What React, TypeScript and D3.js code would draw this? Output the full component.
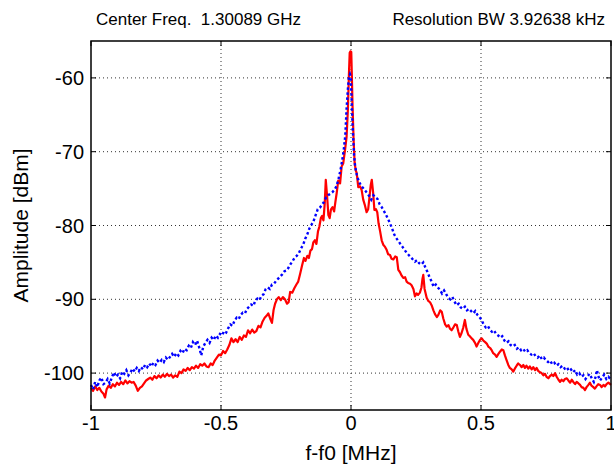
import React from "react";
import * as d3 from "d3";

// ---------------- data
const redFreq = [
  -1.0, -0.992, -0.984, -0.976, -0.968, -0.96, -0.952, -0.946, -0.94, -0.932, -0.924, -0.916, -0.908, -0.9, -0.892,
  -0.884, -0.876, -0.868, -0.86, -0.852, -0.844, -0.836, -0.828, -0.82, -0.812, -0.804, -0.796, -0.788, -0.78, -0.772,
  -0.764, -0.756, -0.748, -0.74, -0.732, -0.724, -0.716, -0.708, -0.7, -0.692, -0.684, -0.676, -0.668, -0.66, -0.652,
  -0.644, -0.636, -0.628, -0.62, -0.612, -0.604, -0.596, -0.588, -0.58, -0.572, -0.564, -0.556, -0.548, -0.54, -0.532,
  -0.524, -0.516, -0.508, -0.5, -0.492, -0.484, -0.476, -0.468, -0.46, -0.452, -0.444, -0.436, -0.428, -0.42, -0.412,
  -0.404, -0.396, -0.388, -0.38, -0.372, -0.364, -0.356, -0.348, -0.34, -0.332, -0.324, -0.318, -0.311, -0.304, -0.298,
  -0.292, -0.285, -0.278, -0.27, -0.262, -0.254, -0.246, -0.24, -0.234, -0.226, -0.218, -0.21, -0.203, -0.196, -0.188,
  -0.181, -0.175, -0.168, -0.162, -0.156, -0.15, -0.145, -0.139, -0.133, -0.127, -0.122, -0.116, -0.111, -0.106, -0.101,
  -0.097, -0.092, -0.087, -0.082, -0.077, -0.071, -0.065, -0.06, -0.055, -0.049, -0.042, -0.036, -0.03, -0.023, -0.017,
  -0.012, -0.008, -0.005, -0.002, 0.001, 0.003, 0.006, 0.01, 0.014, 0.018, 0.022, 0.028, 0.035, 0.041, 0.047,
  0.053, 0.06, 0.066, 0.071, 0.076, 0.08, 0.085, 0.09, 0.096, 0.101, 0.106, 0.112, 0.118, 0.124, 0.131,
  0.137, 0.143, 0.15, 0.156, 0.163, 0.17, 0.176, 0.182, 0.188, 0.195, 0.201, 0.208, 0.214, 0.22, 0.227,
  0.233, 0.24, 0.246, 0.252, 0.258, 0.265, 0.271, 0.275, 0.278, 0.283, 0.291, 0.297, 0.304, 0.31, 0.317,
  0.323, 0.33, 0.336, 0.343, 0.349, 0.355, 0.362, 0.368, 0.375, 0.381, 0.387, 0.394, 0.4, 0.407, 0.413,
  0.419, 0.425, 0.432, 0.438, 0.444, 0.451, 0.457, 0.464, 0.47, 0.477, 0.483, 0.49, 0.496, 0.503, 0.509,
  0.516, 0.522, 0.528, 0.535, 0.541, 0.547, 0.554, 0.56, 0.567, 0.573, 0.58, 0.586, 0.592, 0.599, 0.605,
  0.611, 0.618, 0.624, 0.63, 0.637, 0.643, 0.65, 0.656, 0.663, 0.669, 0.675, 0.682, 0.688, 0.695, 0.701,
  0.708, 0.714, 0.72, 0.727, 0.733, 0.74, 0.746, 0.752, 0.759, 0.765, 0.772, 0.778, 0.785, 0.791, 0.798,
  0.804, 0.81, 0.817, 0.823, 0.83, 0.836, 0.843, 0.849, 0.855, 0.862, 0.868, 0.875, 0.881, 0.887, 0.894,
  0.9, 0.906, 0.913, 0.919, 0.925, 0.932, 0.938, 0.944, 0.951, 0.958, 0.964, 0.971, 0.977, 0.983, 0.99, 1.0,
];
const redAmp = [
  -102.0, -102.4, -101.8, -102.3, -102.0, -102.5, -102.8, -103.3, -102.2, -101.7, -102.0, -101.5, -101.8, -101.3, -101.6,
  -101.2, -101.5, -101.0, -101.4, -101.1, -101.3, -101.2, -101.7, -102.4, -102.0, -101.8, -101.4, -101.0, -100.8, -100.6,
  -100.9, -100.4, -100.7, -100.3, -100.6, -100.2, -100.5, -100.1, -100.4, -100.2, -100.6, -100.3, -100.5, -99.8, -100.0,
  -99.5, -99.7, -99.3, -99.6, -99.2, -99.4, -99.0, -99.3, -98.8, -99.0, -98.7, -99.1, -99.2, -98.7, -98.9,
  -98.3, -97.9, -97.5, -97.6, -97.0, -97.3, -96.8, -96.2, -95.3, -95.8, -95.4, -95.8, -95.1, -95.5, -94.9,
  -95.1, -94.2, -94.6, -94.1, -94.5, -94.3, -93.6, -93.8, -93.0, -92.5, -92.2, -91.9, -92.6, -93.2, -91.5,
  -90.6, -90.0, -89.7, -90.1, -89.7, -90.0, -90.6, -90.4, -89.0, -89.1, -88.5, -88.0, -87.6, -86.6, -85.4,
  -84.4, -84.8, -84.1, -84.4, -83.4, -83.2, -82.3, -82.0, -82.5, -80.8, -80.2, -79.0, -78.7, -79.3, -77.0,
  -73.8, -76.0, -78.6, -79.0, -77.8, -77.5, -78.1, -76.8, -75.6, -73.9, -74.3, -72.0, -71.6, -69.8, -68.0,
  -64.3, -59.5, -56.6, -56.4, -56.5, -59.3, -63.9, -68.4, -71.5, -72.5, -72.9, -74.8, -74.7, -75.2, -76.5,
  -77.2, -78.2, -77.8, -76.2, -74.5, -73.8, -75.5, -77.9, -77.8, -78.2, -79.7, -80.8, -82.0, -82.6, -82.9,
  -83.3, -83.9, -84.0, -84.5, -84.6, -84.2, -84.3, -86.0, -86.3, -86.8, -87.1, -87.0, -87.6, -87.8, -87.9,
  -88.1, -88.6, -89.6, -89.2, -89.4, -89.1, -88.4, -87.2, -86.7, -88.6, -89.8, -90.2, -90.4, -90.8, -91.5,
  -92.0, -92.4, -92.1, -91.5, -91.7, -92.6, -93.4, -93.7, -93.5, -94.0, -94.2, -93.8, -93.4, -93.5, -94.4,
  -95.1, -94.6, -93.8, -92.8, -94.0, -94.8, -95.0, -95.3, -95.5, -95.9, -96.4, -95.9, -95.5, -95.3, -95.6,
  -95.8, -96.0, -96.4, -96.6, -96.9, -97.3, -97.5, -97.8, -97.4, -97.1, -96.8, -96.9, -97.6, -98.3, -98.9,
  -99.3, -99.5, -99.8, -99.4, -99.0, -98.7, -98.9, -99.2, -98.9, -99.3, -99.0, -99.4, -99.1, -99.5, -99.2,
  -99.6, -99.3, -99.7, -99.9, -100.0, -100.3, -100.1, -100.5, -100.7, -100.4, -100.2, -100.4, -100.0, -100.5, -100.9,
  -101.2, -100.9, -101.1, -100.8, -100.7, -101.0, -101.3, -100.9, -101.2, -101.5, -101.2, -101.4, -101.6, -101.9, -102.0,
  -102.3, -101.9, -101.6, -101.3, -101.7, -101.9, -102.1, -101.8, -101.5, -101.6, -101.9, -101.6, -101.8, -101.5, -101.3, -101.6,
];

const blueFreq = [
  -1.0, -0.992, -0.984, -0.976, -0.968, -0.96, -0.952, -0.944, -0.936, -0.928, -0.92, -0.912, -0.904, -0.896, -0.888,
  -0.88, -0.872, -0.864, -0.856, -0.848, -0.84, -0.832, -0.824, -0.816, -0.808, -0.8, -0.792, -0.784, -0.776, -0.768,
  -0.76, -0.752, -0.744, -0.736, -0.728, -0.72, -0.712, -0.704, -0.696, -0.688, -0.68, -0.672, -0.664, -0.656, -0.648,
  -0.64, -0.632, -0.624, -0.616, -0.608, -0.6, -0.592, -0.584, -0.576, -0.568, -0.56, -0.552, -0.544, -0.536, -0.528,
  -0.52, -0.512, -0.504, -0.496, -0.488, -0.48, -0.472, -0.464, -0.456, -0.448, -0.44, -0.432, -0.424, -0.416, -0.408,
  -0.4, -0.392, -0.384, -0.376, -0.368, -0.36, -0.352, -0.344, -0.336, -0.328, -0.32, -0.312, -0.304, -0.296, -0.288,
  -0.28, -0.272, -0.264, -0.256, -0.248, -0.24, -0.232, -0.224, -0.216, -0.208, -0.2, -0.192, -0.184, -0.176, -0.168,
  -0.16, -0.152, -0.144, -0.136, -0.128, -0.12, -0.112, -0.104, -0.096, -0.088, -0.08, -0.072, -0.064, -0.056, -0.048,
  -0.04, -0.034, -0.028, -0.022, -0.017, -0.012, -0.008, -0.004, -0.001, 0.003, 0.006, 0.009, 0.012, 0.016, 0.022,
  0.028, 0.034, 0.041, 0.048, 0.055, 0.062, 0.07, 0.078, 0.086, 0.094, 0.102, 0.11, 0.118, 0.126, 0.134,
  0.142, 0.15, 0.158, 0.166, 0.174, 0.182, 0.19, 0.198, 0.206, 0.214, 0.222, 0.23, 0.238, 0.246, 0.254,
  0.262, 0.27, 0.278, 0.286, 0.294, 0.302, 0.31, 0.318, 0.326, 0.334, 0.342, 0.35, 0.358, 0.366, 0.374,
  0.382, 0.39, 0.398, 0.406, 0.414, 0.422, 0.43, 0.438, 0.446, 0.454, 0.462, 0.47, 0.478, 0.486, 0.494,
  0.502, 0.51, 0.518, 0.526, 0.534, 0.542, 0.55, 0.558, 0.566, 0.574, 0.582, 0.59, 0.598, 0.606, 0.614,
  0.622, 0.63, 0.638, 0.646, 0.654, 0.662, 0.67, 0.678, 0.686, 0.694, 0.702, 0.71, 0.718, 0.726, 0.734,
  0.742, 0.75, 0.758, 0.766, 0.774, 0.782, 0.79, 0.798, 0.806, 0.814, 0.822, 0.83, 0.838, 0.846, 0.854,
  0.862, 0.87, 0.878, 0.886, 0.894, 0.902, 0.91, 0.918, 0.926, 0.934, 0.942, 0.946, 0.95, 0.958, 0.966,
  0.974, 0.982, 0.99, 1.0,
];
const blueAmp = [
  -101.6, -102.2, -101.2, -101.9, -101.0, -100.6, -101.5, -101.3, -100.8, -101.4, -100.6, -99.9, -100.5, -100.2, -100.7,
  -99.8, -100.1, -99.6, -100.3, -99.9, -99.4, -99.8, -99.3, -99.7, -99.2, -99.5, -98.9, -99.2, -98.7, -99.1,
  -98.6, -98.9, -98.3, -98.6, -98.2, -98.5, -97.9, -98.2, -97.8, -97.4, -97.8, -97.3, -97.6, -97.0, -97.3,
  -96.7, -96.9, -96.3, -96.6, -95.8, -96.2, -95.6, -96.5, -97.6, -96.4, -95.9, -95.5, -95.9, -95.2, -95.5,
  -94.9, -95.2, -94.7, -94.9, -94.3, -94.5, -93.9, -93.4, -93.6, -92.9, -92.5, -92.7, -92.1, -91.8, -91.9,
  -91.3, -91.0, -90.7, -90.9, -90.2, -89.9, -90.1, -89.5, -89.3, -88.6, -88.4, -88.6, -88.0, -87.9, -87.5,
  -87.2, -86.9, -86.6, -86.2, -86.1, -85.7, -85.2, -84.8, -84.3, -84.1, -83.7, -83.1, -82.6, -81.8, -81.2,
  -80.4, -79.9, -79.4, -78.6, -77.8, -77.6, -77.2, -76.8, -76.2, -75.9, -75.7, -75.5, -75.2, -74.7, -73.7,
  -72.4, -71.2, -69.8, -67.8, -64.2, -61.5, -59.9, -59.5, -59.8, -63.5, -66.4, -68.5, -70.6, -72.0, -73.1,
  -73.8, -74.3, -74.7, -75.0, -75.3, -75.6, -76.0, -76.5, -75.9, -76.2, -76.4, -77.1, -77.5, -78.0, -78.5,
  -79.1, -79.7, -80.4, -81.2, -81.7, -82.1, -82.5, -82.9, -83.3, -83.7, -84.0, -84.3, -84.6, -84.9, -84.7,
  -85.1, -85.3, -85.0, -85.7, -86.3, -87.0, -87.6, -88.3, -88.0, -88.4, -88.7, -89.2, -88.8, -89.3, -89.8,
  -90.0, -89.7, -90.3, -90.8, -90.6, -91.1, -91.3, -91.0, -91.5, -91.3, -91.6, -91.9, -91.6, -92.1, -92.4,
  -92.8, -93.4, -93.8, -93.6, -94.1, -94.4, -94.2, -94.7, -94.9, -95.2, -95.0, -95.6, -95.9, -95.7, -96.2,
  -96.4, -96.2, -96.7, -96.5, -96.9, -96.7, -97.1, -96.9, -97.3, -97.5, -97.3, -97.7, -97.9, -97.6, -98.1,
  -97.9, -98.3, -98.5, -98.3, -98.8, -98.6, -99.0, -98.8, -99.2, -99.0, -99.4, -99.2, -99.7, -99.5, -99.9,
  -99.6, -100.2, -100.0, -100.5, -100.3, -100.8, -100.4, -100.1, -100.7, -101.2, -100.4, -99.6, -100.3, -101.0, -100.6,
  -100.2, -100.8, -100.5, -100.9,
];

const xTicks = [-1, -0.5, 0, 0.5, 1];
const yTicks = [-100, -90, -80, -70, -60];

const width = 614;
const height = 464;
const margin = { top: 41, right: 3, bottom: 54, left: 91 };
const font = "'Liberation Sans', Arial, Helvetica, sans-serif";

export default function App() {
  const x = d3
    .scaleLinear()
    .domain([-1, 1])
    .range([margin.left, width - margin.right]);
  const y = d3
    .scaleLinear()
    .domain([-105, -55])
    .range([height - margin.bottom, margin.top]);

  // series -> pixel points
  const redPts = redFreq.map((f, i) => [x(f), y(redAmp[i])] as [number, number]);
  const bluePts = blueFreq.map((f, i) => [x(f), y(blueAmp[i])] as [number, number]);
  const path = d3.line();

  const x0 = margin.left;
  const x1 = width - margin.right;
  const y0 = margin.top;
  const y1 = height - margin.bottom;
  const tick = 5;

  return (
    <svg
      width={width}
      height={height}
      style={{ position: "absolute", left: 0, top: 0, background: "#fff" }}
      fontFamily={font}
    >
      <rect x={0} y={0} width={width} height={height} fill="#fff" />

      {/* grid */}
      <g stroke="#333" strokeWidth={1} strokeDasharray="1 3">
        {yTicks.map((t) => (
          <line key={"gy" + t} x1={x0} x2={x1} y1={y(t)} y2={y(t)} />
        ))}
        {xTicks.slice(1, -1).map((t) => (
          <line key={"gx" + t} x1={x(t)} x2={x(t)} y1={y0} y2={y1} />
        ))}
      </g>

      {/* curves */}
      <path d={path(redPts) || ""} fill="none" stroke="#ff0000" strokeWidth={2.2} strokeLinejoin="round" />
      <path
        d={path(bluePts) || ""}
        fill="none"
        stroke="#0000ff"
        strokeWidth={2.4}
        strokeDasharray="2.5 2.5"
      />

      {/* frame and ticks */}
      <rect x={x0} y={y0} width={x1 - x0} height={y1 - y0} fill="none" stroke="#000" strokeWidth={1.5} />
      <g stroke="#000" strokeWidth={1}>
        {xTicks.map((t) => (
          <g key={"tx" + t}>
            <line x1={x(t)} x2={x(t)} y1={y1} y2={y1 - tick} />
            <line x1={x(t)} x2={x(t)} y1={y0} y2={y0 + tick} />
          </g>
        ))}
        {yTicks.map((t) => (
          <g key={"ty" + t}>
            <line x1={x0} x2={x0 + tick} y1={y(t)} y2={y(t)} />
            <line x1={x1} x2={x1 - tick} y1={y(t)} y2={y(t)} />
          </g>
        ))}
      </g>

      {/* tick labels */}
      <g fontSize={20} fill="#000">
        {xTicks.map((t) => (
          <text key={"lx" + t} x={x(t)} y={y1 + 20} textAnchor="middle">
            {t}
          </text>
        ))}
        {yTicks.map((t) => (
          <text key={"ly" + t} x={x0 - 7} y={y(t) + 7} textAnchor="end">
            {t}
          </text>
        ))}
      </g>

      {/* axis titles */}
      <text x={(x0 + x1) / 2} y={460} textAnchor="middle" fontSize={21}>
        f-f0 [MHz]
      </text>
      <text transform={`translate(28, ${(y0 + y1) / 2}) rotate(-90)`} textAnchor="middle" fontSize={21}>
        Amplitude [dBm]
      </text>

      {/* header */}
      <text x={96} y={25} fontSize={17} style={{ whiteSpace: "pre" }}>
        {"Center Freq.  1.30089 GHz"}
      </text>
      <text x={605} y={25} fontSize={17} textAnchor="end">
        Resolution BW 3.92638 kHz
      </text>
    </svg>
  );
}
